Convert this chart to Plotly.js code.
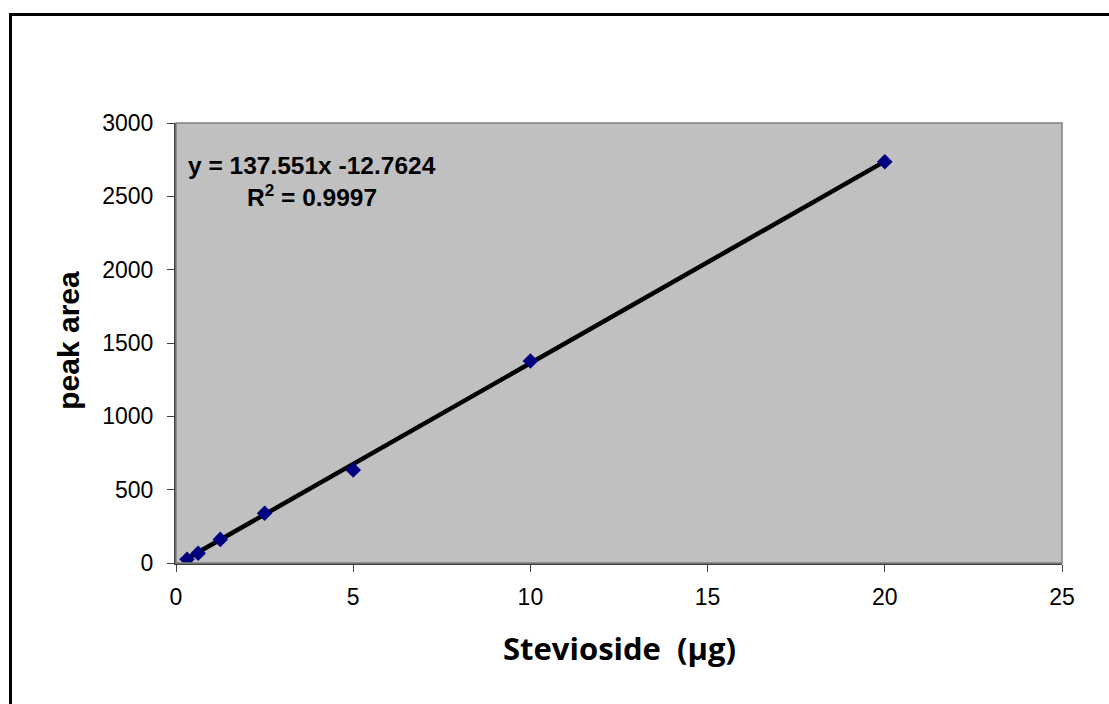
<!DOCTYPE html>
<html>
<head>
<meta charset="utf-8">
<script src="https://cdn.plot.ly/plotly-3.0.1.min.js"></script>
<style>
html,body{margin:0;padding:0;background:#fff;overflow:hidden;}
#wrap{position:relative;width:1109px;height:704px;}
#chart{position:absolute;left:0;top:0;width:1109px;height:704px;}
#frame{position:absolute;left:9px;top:13px;width:1200px;height:800px;border:3px solid #000;pointer-events:none;box-sizing:border-box;}
</style>
</head>
<body>
<div id="wrap"><div id="chart"></div><div id="frame"></div></div>
<script>
var amounts = [0.3125, 0.625, 1.25, 2.5, 5, 10, 20];
var peakAreas = [25, 66, 161, 339, 634, 1377, 2736];
var slope = 137.551;
var intercept = -12.7624;
var xTicks = [0, 5, 10, 15, 20, 25];
var yTicks = [0, 500, 1000, 1500, 2000, 2500, 3000];

var xMin = Math.min.apply(null, amounts), xMax = Math.max.apply(null, amounts);
var fitX = [xMin, xMax];
var fitY = fitX.map(function(v){ return slope * v + intercept; });

var traces = [
  {x: fitX, y: fitY, mode: 'lines', line: {color: '#000', width: 4.5}, hoverinfo: 'skip', showlegend: false},
  {x: amounts, y: peakAreas, mode: 'markers', marker: {symbol: 'diamond', color: '#000080', size: 12}, showlegend: false}
];

var tickFont = {size: 23, family: 'Liberation Sans, Arial, sans-serif', color: '#000'};

var layout = {
  width: 1109, height: 704,
  margin: {l: 176, r: 47, t: 123, b: 141},
  paper_bgcolor: '#ffffff',
  plot_bgcolor: '#c0c0c0',
  font: {family: 'Liberation Sans, Arial, sans-serif', color: '#000'},
  xaxis: {
    range: [0, 25], tickvals: xTicks, ticktext: xTicks.map(String),
    showgrid: false, zeroline: false, showline: true, linecolor: '#404040', linewidth: 2,
    ticks: 'outside', ticklen: 7, tickcolor: '#404040', tickwidth: 1,
    ticklabelstandoff: 5, tickfont: tickFont
  },
  yaxis: {
    range: [0, 3000], tickvals: yTicks, ticktext: yTicks.map(String),
    showgrid: false, zeroline: false, showline: true, linecolor: '#404040', linewidth: 2,
    ticks: 'outside', ticklen: 7, tickcolor: '#404040', tickwidth: 1,
    ticklabelstandoff: 9, tickfont: tickFont
  },
  shapes: [
    {type: 'rect', xref: 'paper', yref: 'paper', x0: 0, x1: 1, y0: 0, y1: 1, line: {color: '#808080', width: 1.5}, fillcolor: 'rgba(0,0,0,0)'}
  ],
  annotations: [
    {xref: 'paper', yref: 'paper', x: 0.5, y: -0.193, xanchor: 'center', yanchor: 'middle', showarrow: false,
     text: '<b>Stevioside  (µg)</b>', font: {size: 31, family: 'Open Sans, Carlito, sans-serif', color: '#000'}},
    {xref: 'paper', yref: 'paper', x: -0.121, y: 0.507, xanchor: 'center', yanchor: 'middle', showarrow: false, textangle: -90,
     text: '<b>peak area</b>', font: {size: 30, family: 'Liberation Sans, Arial, sans-serif', color: '#000'}},
    {xref: 'paper', yref: 'paper', x: 0.1535, y: 0.9045, xanchor: 'center', yanchor: 'middle', showarrow: false, align: 'center',
     text: '<b>y = 137.551x -12.7624</b>', font: {size: 24.5, family: 'Liberation Sans, Arial, sans-serif', color: '#000'}},
    {xref: 'paper', yref: 'paper', x: 0.1535, y: 0.836, xanchor: 'center', yanchor: 'middle', showarrow: false, align: 'center',
     text: '<b>R<sup>2</sup> = 0.9997</b>', font: {size: 24.5, family: 'Liberation Sans, Arial, sans-serif', color: '#000'}}
  ]
};

Plotly.newPlot('chart', traces, layout, {displayModeBar: false, staticPlot: true});
</script>
</body>
</html>
